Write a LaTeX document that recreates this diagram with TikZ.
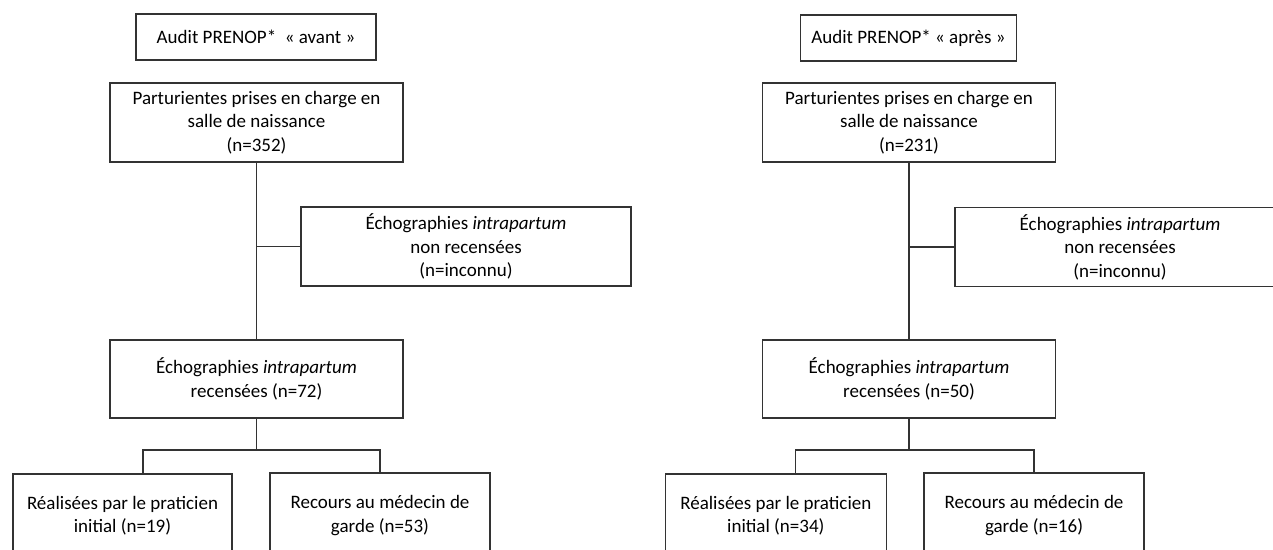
\documentclass[tikz,border=0pt]{standalone}
\usepackage{fontspec}
\setmainfont{Carlito}

\tikzset{every picture/.style={line width=1.2pt}}
\tikzset{
  cadre/.style={draw=black!80, rectangle, inner sep=0pt, align=center, font=\fontsize{19}{23.5}\selectfont},
  lien/.style={draw=black!80}
}

\begin{document}
\begin{tikzpicture}[x=1pt,y=1pt,yscale=-1,xscale=1]
        \useasboundingbox (0,0) rectangle (1273,549);
        \clip (0,0) rectangle (1273,549);

        % audit avant
        \node[cadre, minimum width=240, minimum height=46] (titreA) at (256,37) {Audit PRENOP*\ \ « avant »};
        \node[cadre, minimum width=293, minimum height=79] (partA) at (256.5,122.5) {Parturientes prises en charge en\\salle de naissance\\(n=352)};
        \node[cadre, minimum width=330, minimum height=79] (nrA) at (466,246.5) {Échographies \textit{intrapartum}\\non recensées\\(n=inconnu)};
        \node[cadre, minimum width=293, minimum height=78] (recA) at (256.5,379) {Échographies \textit{intrapartum}\\recensées (n=72)};
        \node[cadre, minimum width=219, minimum height=83] (praA) at (122.5,515.5) {Réalisées par le praticien\\initial (n=19)};
        \node[cadre, minimum width=220, minimum height=85] (medA) at (380,515.5) {Recours au médecin de\\garde (n=53)};
        \coordinate (fourA) at (recA.south |- 0,450);
        \draw[lien] (partA) -- (recA);
        \draw[lien] (partA.south |- nrA.west) -- (nrA.west);
        \draw[lien] (recA) -- (fourA);
        \draw[lien] ([xshift=20.5pt]praA.north) |- (fourA) -| (medA.north);

        % audit apres
        \node[cadre, minimum width=216, minimum height=46] (titreB) at (908.5,38) {Audit PRENOP* « après »};
        \node[cadre, minimum width=293, minimum height=79] (partB) at (909,122.5) {Parturientes prises en charge en\\salle de naissance\\(n=231)};
        \node[cadre, minimum width=330, minimum height=79] (nrB) at (1120,247) {Échographies \textit{intrapartum}\\non recensées\\(n=inconnu)};
        \node[cadre, minimum width=293, minimum height=78] (recB) at (909,379) {Échographies \textit{intrapartum}\\recensées (n=50)};
        \node[cadre, minimum width=221, minimum height=83] (praB) at (775.8,515.5) {Réalisées par le praticien\\initial (n=34)};
        \node[cadre, minimum width=220, minimum height=85] (medB) at (1034,515.5) {Recours au médecin de\\garde (n=16)};
        \coordinate (fourB) at (recB.south |- 0,450);
        \draw[lien] (partB) -- (recB);
        \draw[lien] (partB.south |- nrB.west) -- (nrB.west);
        \draw[lien] (recB) -- (fourB);
        \draw[lien] ([xshift=19.6pt]praB.north) |- (fourB) -| (medB.north);
    \end{tikzpicture}
\end{document}
